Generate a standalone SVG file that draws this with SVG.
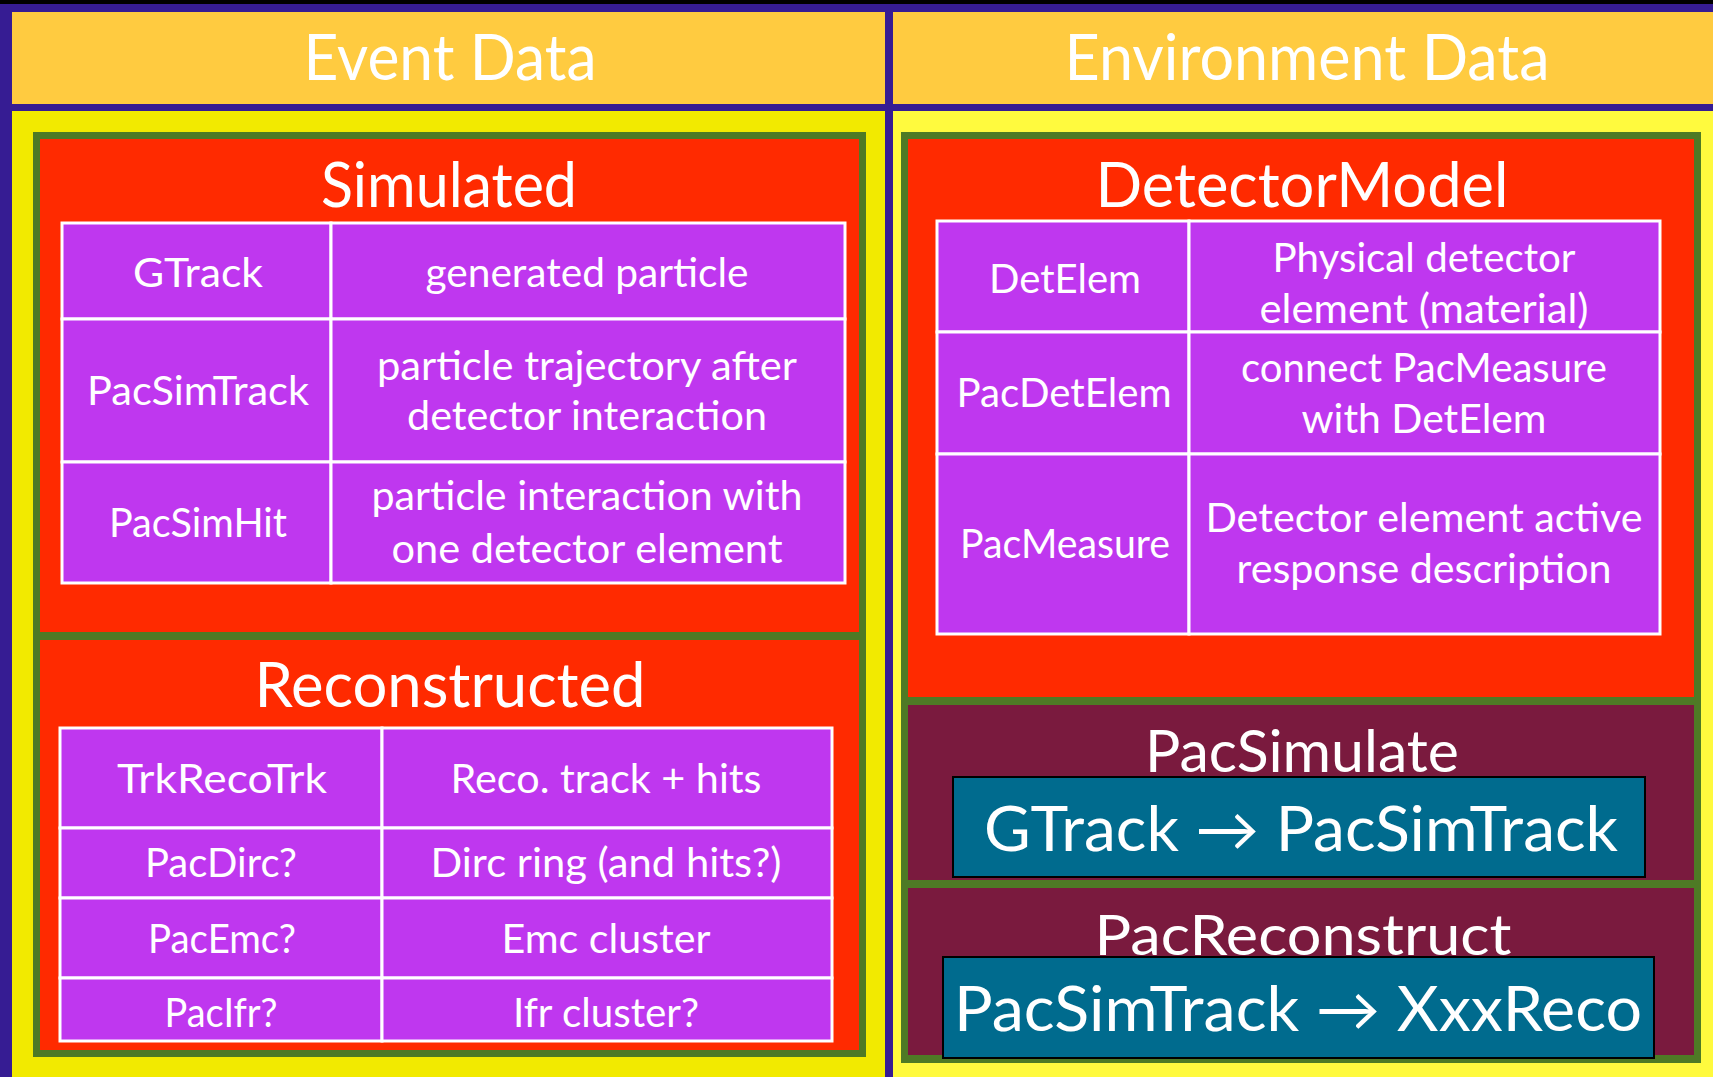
<svg xmlns="http://www.w3.org/2000/svg" width="1713" height="1077" viewBox="0 0 1713 1077">
<style>
text{font-family:Lato,"DejaVu Sans",sans-serif;fill:#fff;text-anchor:middle}
.h{font-size:63px}
.t{font-size:61px}
.c{font-size:41px}
.cell{fill:#BF37EF;stroke:#fff;stroke-width:3}
.grn{fill:#4E7A25}
.red{fill:#FF2A00}
.mar{fill:#7A1A3E}
.teal{fill:#006B8E;stroke:#000;stroke-width:2}
</style>
<rect x="0" y="0" width="1713" height="1077" fill="#361C93"/>
<rect x="0" y="0" width="1713" height="4" fill="#000"/>
<g id="header-event">
<rect x="12" y="12" width="873" height="92" fill="#FFCB40"/>
<text class="h" x="450" y="80" textLength="293" lengthAdjust="spacingAndGlyphs">Event Data</text>
</g>
<g id="header-environment">
<rect x="893" y="12" width="820" height="92" fill="#FFCB40"/>
<text class="h" x="1307" y="80" textLength="485" lengthAdjust="spacingAndGlyphs">Environment Data</text>
</g>
<rect x="12" y="111" width="873" height="966" fill="#F2EA00"/>
<rect x="893" y="111" width="820" height="966" fill="#FFFA3E"/>

<g id="simulated">
<rect class="grn" x="33" y="132" width="833" height="508"/>
<rect class="red" x="40" y="139" width="819" height="493"/>
<text class="t" x="449" y="207" textLength="256" lengthAdjust="spacingAndGlyphs">Simulated</text>
<g id="sim-gtrack">
<rect class="cell" x="62" y="223" width="269" height="96"/>
<rect class="cell" x="331" y="223" width="514" height="96"/>
<text class="c" x="198" y="287" textLength="130" lengthAdjust="spacingAndGlyphs">GTrack</text>
<text class="c" x="587" y="287" textLength="323" lengthAdjust="spacingAndGlyphs">generated particle</text>
</g>
<g id="sim-pacsimtrack">
<rect class="cell" x="62" y="319" width="269" height="143"/>
<rect class="cell" x="331" y="319" width="514" height="143"/>
<text class="c" x="198" y="405" textLength="222" lengthAdjust="spacingAndGlyphs">PacSimTrack</text>
<text class="c" x="587" y="380" textLength="420" lengthAdjust="spacingAndGlyphs">particle trajectory after</text>
<text class="c" x="587" y="430" textLength="360" lengthAdjust="spacingAndGlyphs">detector interaction</text>
</g>
<g id="sim-pacsimhit">
<rect class="cell" x="62" y="462" width="269" height="121"/>
<rect class="cell" x="331" y="462" width="514" height="121"/>
<text class="c" x="198" y="537" textLength="178" lengthAdjust="spacingAndGlyphs">PacSimHit</text>
<text class="c" x="587" y="510" textLength="431" lengthAdjust="spacingAndGlyphs">particle interaction with</text>
<text class="c" x="587" y="563" textLength="391" lengthAdjust="spacingAndGlyphs">one detector element</text>
</g>
</g>

<g id="reconstructed">
<rect class="grn" x="33" y="632" width="833" height="425"/>
<rect class="red" x="40" y="640" width="819" height="410"/>
<text class="t" x="450" y="707" textLength="391" lengthAdjust="spacingAndGlyphs">Reconstructed</text>
<g id="reco-trkrecotrk">
<rect class="cell" x="60" y="728" width="322" height="100"/>
<rect class="cell" x="382" y="728" width="450" height="100"/>
<text class="c" x="222" y="793" textLength="210" lengthAdjust="spacingAndGlyphs">TrkRecoTrk</text>
<text class="c" x="606" y="793" textLength="311" lengthAdjust="spacingAndGlyphs">Reco. track + hits</text>
</g>
<g id="reco-pacdirc">
<rect class="cell" x="60" y="828" width="322" height="70"/>
<rect class="cell" x="382" y="828" width="450" height="70"/>
<text class="c" x="221" y="877" textLength="152" lengthAdjust="spacingAndGlyphs">PacDirc?</text>
<text class="c" x="606" y="877" textLength="351" lengthAdjust="spacingAndGlyphs">Dirc ring (and hits?)</text>
</g>
<g id="reco-pacemc">
<rect class="cell" x="60" y="898" width="322" height="80"/>
<rect class="cell" x="382" y="898" width="450" height="80"/>
<text class="c" x="222" y="953" textLength="148" lengthAdjust="spacingAndGlyphs">PacEmc?</text>
<text class="c" x="606" y="953" textLength="209" lengthAdjust="spacingAndGlyphs">Emc cluster</text>
</g>
<g id="reco-pacifr">
<rect class="cell" x="60" y="978" width="322" height="63"/>
<rect class="cell" x="382" y="978" width="450" height="63"/>
<text class="c" x="221" y="1027" textLength="113" lengthAdjust="spacingAndGlyphs">PacIfr?</text>
<text class="c" x="606" y="1027" textLength="186" lengthAdjust="spacingAndGlyphs">Ifr cluster?</text>
</g>
</g>

<g id="detectormodel">
<rect class="grn" x="901" y="132" width="800" height="931"/>
<rect class="red" x="908" y="139" width="786" height="558"/>
<text class="t" x="1302" y="207" textLength="413" lengthAdjust="spacingAndGlyphs">DetectorModel</text>
<g id="det-detelem">
<rect class="cell" x="937" y="221" width="252" height="111"/>
<rect class="cell" x="1189" y="221" width="471" height="111"/>
<text class="c" x="1065" y="293" textLength="152" lengthAdjust="spacingAndGlyphs">DetElem</text>
<text class="c" x="1424" y="272" textLength="303" lengthAdjust="spacingAndGlyphs">Physical detector</text>
<text class="c" x="1424" y="323" textLength="329" lengthAdjust="spacingAndGlyphs">element (material)</text>
</g>
<g id="det-pacdetelem">
<rect class="cell" x="937" y="332" width="252" height="122"/>
<rect class="cell" x="1189" y="332" width="471" height="122"/>
<text class="c" x="1064" y="407" textLength="215" lengthAdjust="spacingAndGlyphs">PacDetElem</text>
<text class="c" x="1424" y="382" textLength="366" lengthAdjust="spacingAndGlyphs">connect PacMeasure</text>
<text class="c" x="1424" y="433" textLength="245" lengthAdjust="spacingAndGlyphs">with DetElem</text>
</g>
<g id="det-pacmeasure">
<rect class="cell" x="937" y="454" width="252" height="180"/>
<rect class="cell" x="1189" y="454" width="471" height="180"/>
<text class="c" x="1065" y="558" textLength="210" lengthAdjust="spacingAndGlyphs">PacMeasure</text>
<text class="c" x="1424" y="532" textLength="437" lengthAdjust="spacingAndGlyphs">Detector element active</text>
<text class="c" x="1424" y="583" textLength="375" lengthAdjust="spacingAndGlyphs">response description</text>
</g>
</g>

<g id="pacsimulate">
<rect class="mar" x="908" y="705" width="786" height="175"/>
<text class="t" x="1302" y="772" style="font-size:58px" textLength="314" lengthAdjust="spacingAndGlyphs">PacSimulate</text>
<rect class="teal" x="953" y="777" width="692" height="100"/>
<text class="t" x="1301" y="851" textLength="634" lengthAdjust="spacingAndGlyphs">GTrack → PacSimTrack</text>
</g>

<g id="pacreconstruct">
<rect class="mar" x="908" y="888" width="786" height="167"/>
<text class="t" x="1303" y="955" style="font-size:57px" textLength="417" lengthAdjust="spacingAndGlyphs">PacReconstruct</text>
<rect class="teal" x="943" y="957" width="711" height="101"/>
<text class="t" x="1298" y="1031" textLength="688" lengthAdjust="spacingAndGlyphs">PacSimTrack → XxxReco</text>
</g>

<g id="connectors"/>
</svg>
